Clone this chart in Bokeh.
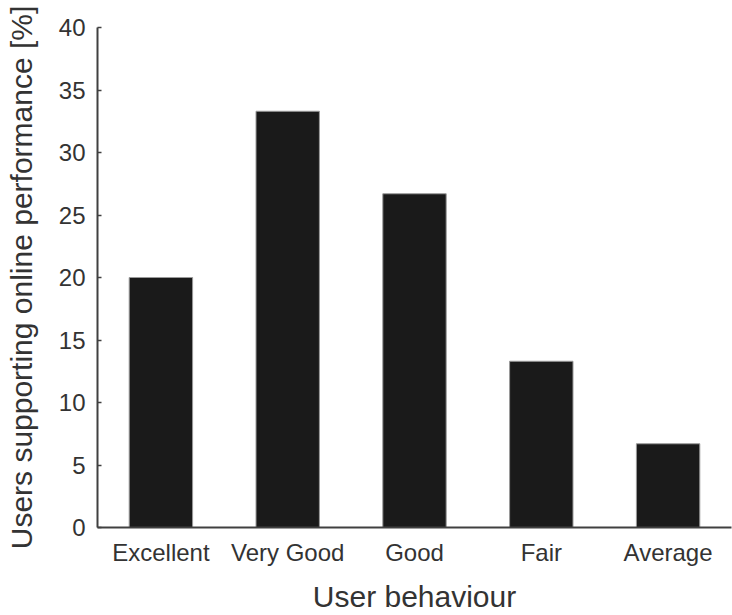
from bokeh.plotting import figure
from bokeh.models import Range1d, FixedTicker
from bokeh.embed import file_html
from bokeh.resources import INLINE

categories = ["Excellent", "Very Good", "Good", "Fair", "Average"]
values = [20.0, 33.3, 26.7, 13.3, 6.7]
y_ticks = [0, 5, 10, 15, 20, 25, 30, 35, 40]

FONT = "Liberation Sans"
TXT = "#333333"
AX = "#404040"

p = figure(x_range=categories, y_range=Range1d(0, 40), width=732, height=615,
           output_backend="svg", toolbar_location=None,
           min_border_left=97, min_border_top=27, min_border_right=1,
           min_border_bottom=88)
p.x_range.range_padding = 0

p.vbar(x=categories, top=values, width=0.5, fill_color="#1a1a1a",
       line_color="#9a9a9a", line_width=1)

p.xgrid.visible = False
p.ygrid.visible = False
p.outline_line_color = None
p.background_fill_color = "white"
p.border_fill_color = "white"

ya = p.yaxis[0]
ya.ticker = FixedTicker(ticks=y_ticks)
ya.major_tick_in = 4
ya.major_tick_out = 0
ya.minor_tick_line_color = None
ya.axis_line_width = 2
ya.axis_line_color = AX
ya.major_tick_line_color = AX
ya.major_tick_line_width = 1.5
ya.major_label_text_font = FONT
ya.major_label_text_font_size = "24px"
ya.major_label_text_color = TXT
ya.major_label_standoff = 12
ya.axis_label = "Users supporting online performance [%]"
ya.axis_label_text_font = FONT
ya.axis_label_text_font_size = "30px"
ya.axis_label_text_font_style = "normal"
ya.axis_label_text_color = TXT
ya.axis_label_standoff = 18

xa = p.xaxis[0]
xa.major_tick_in = 0
xa.major_tick_out = 0
xa.major_tick_line_color = None
xa.minor_tick_line_color = None
xa.axis_line_width = 2
xa.axis_line_color = AX
xa.major_label_text_font = FONT
xa.major_label_text_font_size = "24px"
xa.major_label_text_color = TXT
xa.major_label_standoff = 11
xa.axis_label = "User behaviour"
xa.axis_label_text_font = FONT
xa.axis_label_text_font_size = "30px"
xa.axis_label_text_font_style = "normal"
xa.axis_label_text_color = TXT
xa.axis_label_standoff = 11

open("out.html", "w").write(file_html(p, INLINE))
